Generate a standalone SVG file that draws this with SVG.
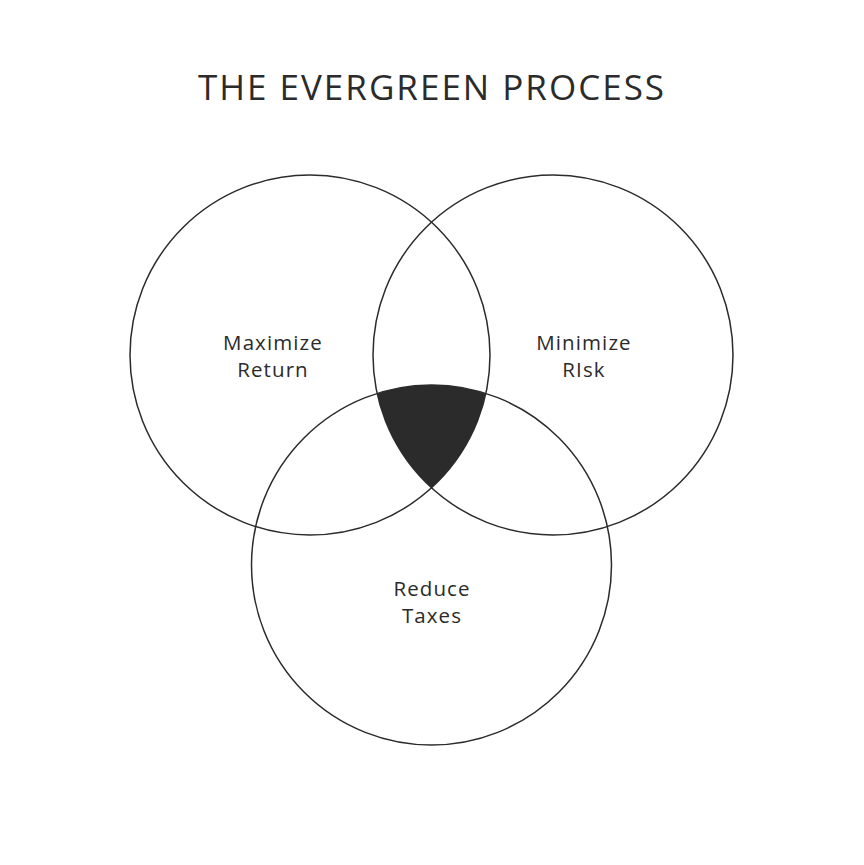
<svg xmlns="http://www.w3.org/2000/svg" width="864" height="865" viewBox="0 0 864 865">
<style>
.c{fill:none;stroke:#2b2b2b;stroke-width:1.5}
.t{font-family:"Open Sans",sans-serif;fill:#2b2b2b;text-anchor:middle}
.l{font-size:20.5px;letter-spacing:1.1px}
</style>
<rect width="864" height="865" fill="#fff"/>
<text class="t" x="432" y="100" font-size="35" letter-spacing="2">THE EVERGREEN PROCESS</text>
<g id="center"><path d="M377.2,393.6 A180,180 0 0 1 485.8,393.6 A180,180 0 0 1 431.5,487.8 A180,180 0 0 1 377.2,393.6 Z" fill="#2b2b2b"/></g>
<g id="return"><circle class="c" cx="310" cy="355" r="180"/><text class="t l" x="273" y="350">Maximize</text><text class="t l" x="273" y="377">Return</text></g>
<g id="risk"><circle class="c" cx="553" cy="355" r="180"/><text class="t l" x="584" y="350">Minimize</text><text class="t l" x="584" y="377">RIsk</text></g>
<g id="taxes"><circle class="c" cx="431.5" cy="565" r="180"/><text class="t l" x="432" y="596">Reduce</text><text class="t l" x="432" y="623">Taxes</text></g>
<g id="connectors"/>
</svg>
